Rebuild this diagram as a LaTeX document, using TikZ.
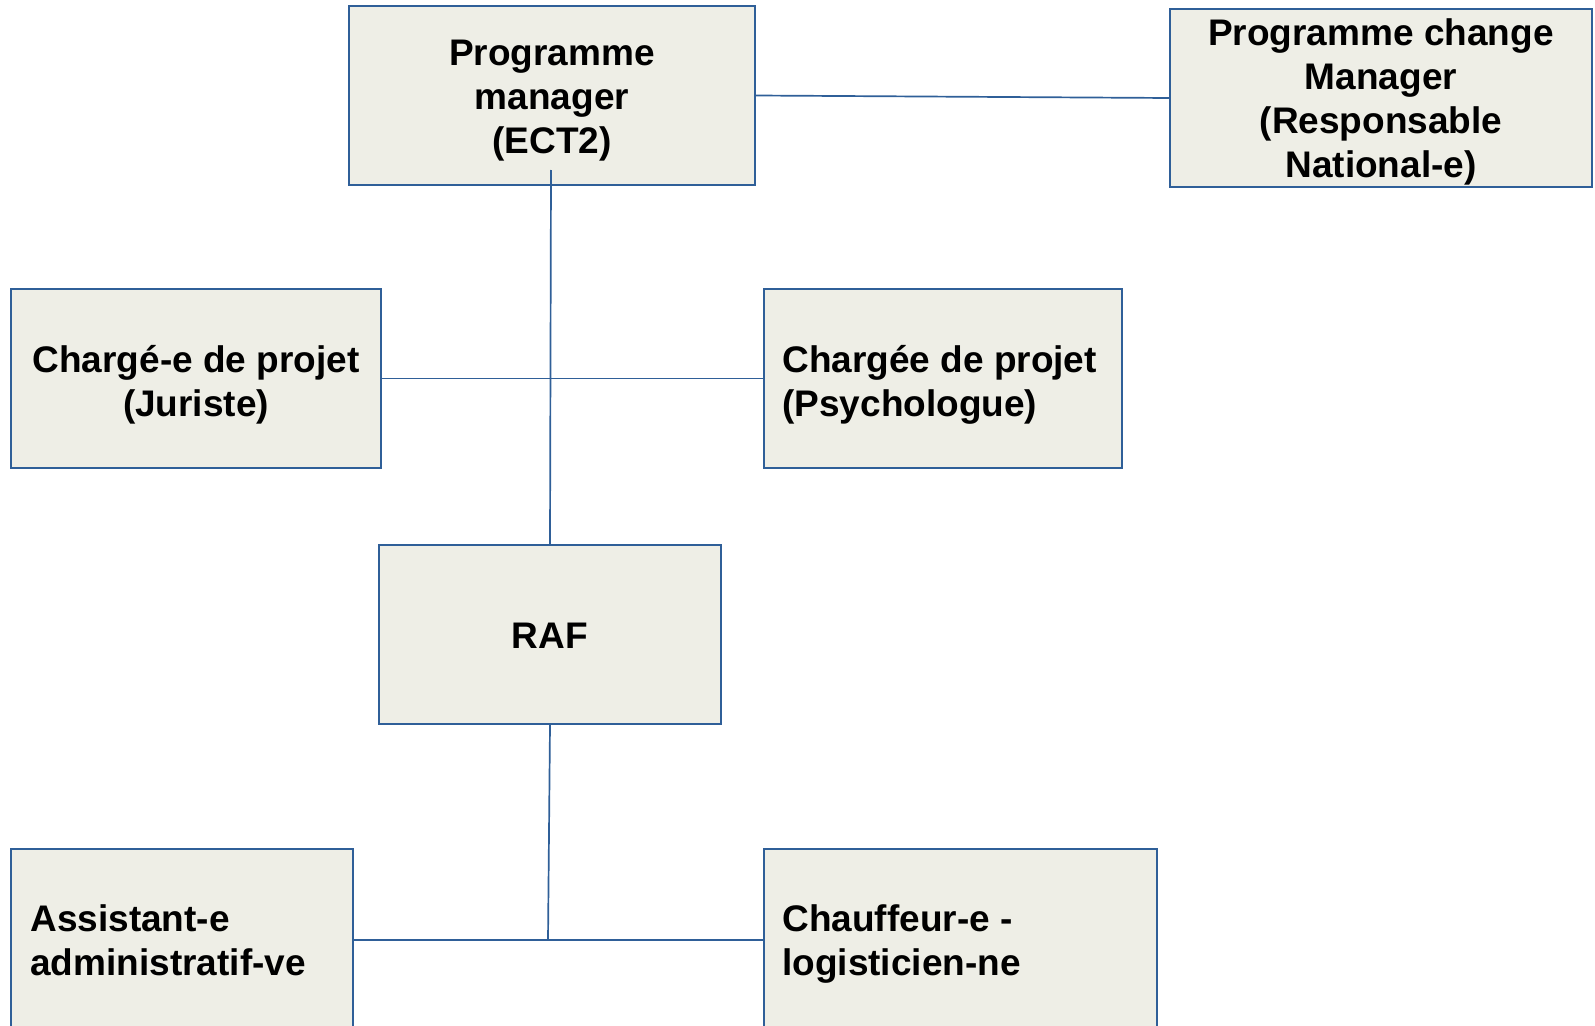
\documentclass[tikz,border=0pt]{standalone}
\usepackage{fontspec}
\setmainfont{Liberation Sans}
\definecolor{boxline}{HTML}{2F5F98}
\definecolor{boxfill}{HTML}{EEEEE6}
\begin{document}
\begin{tikzpicture}[x=1pt,y=-1pt,
  box/.style={draw=boxline, fill=boxfill, line width=1.8pt, rectangle, inner sep=0pt},
  txt/.style={inner sep=0pt, font=\fontsize{37}{44}\selectfont\bfseries, align=center},
  ltxt/.style={txt, align=left, anchor=west},
  conn/.style={draw=boxline, line width=1.7pt}]
\useasboundingbox (0,0) rectangle (1595,1025);
\clip (0,0) rectangle (1595,1025);
% boxes
\node[box, minimum width=406pt, minimum height=179pt] (pm) at (552,95.5) {};
\node[box, minimum width=422pt, minimum height=178pt] (pcm) at (1381,98) {};
\node[box, minimum width=370pt, minimum height=179pt] (jur) at (196,378.5) {};
\node[box, minimum width=358pt, minimum height=179pt] (psy) at (943,378.5) {};
\node[box, minimum width=342pt, minimum height=179pt] (raf) at (550,634.5) {};
\node[box, minimum width=342pt, minimum height=182pt] (ast) at (182,940) {};
\node[box, minimum width=393pt, minimum height=182pt] (chf) at (960.5,940) {};
% texts
\node[txt] (pmt) at ([yshift=-5pt]pm.center) {Programme\\manager\\(ECT2)};
\node[txt] (pcmt) at ([yshift=-4pt]pcm.center) {Programme change\\Manager\\(Responsable\\National-e)};
\node[txt] (jurt) at ([yshift=-6pt]jur.center) {Chargé-e de projet\\(Juriste)};
\node[ltxt] (psyt) at ([xshift=19pt,yshift=-6pt]psy.west) {Chargée de projet\\(Psychologue)};
\node[txt] (raft) at ([yshift=-1pt]raf.center) {RAF};
\node[ltxt] (astt) at ([xshift=20pt]ast.west) {Assistant-e\\administratif-ve};
\node[ltxt] (chft) at ([xshift=19pt,yshift=-4pt]chf.west) {Chauffeur-e -\\logisticien-ne};
% connectors
\coordinate (top) at (551,170);
\coordinate (low) at (548,940);
\draw[conn] (pm.east) -- (pcm.west);
\draw[conn] (top) -- (raf.north);
\draw[conn] (jur.east) -- (psy.west);
\draw[conn] (raf.south) -- (low);
\draw[conn] (ast.east) -- (chf.west);
\end{tikzpicture}
\end{document}
